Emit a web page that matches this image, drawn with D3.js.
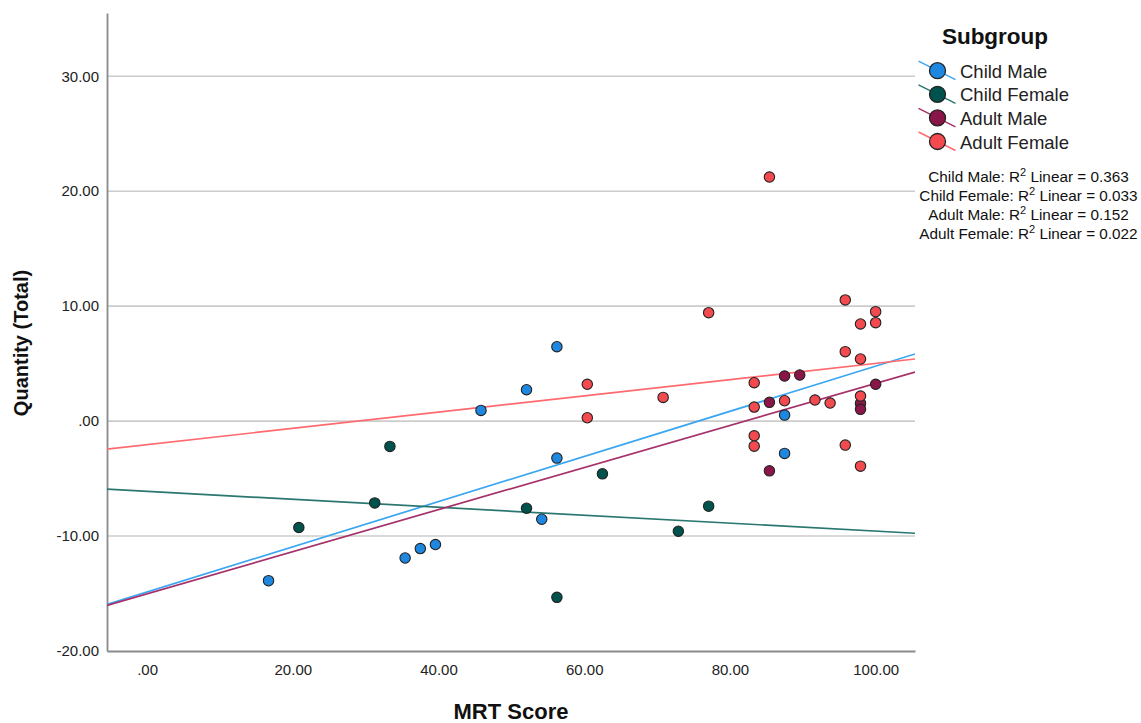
<!DOCTYPE html>
<html>
<head>
<meta charset="utf-8">
<script src="https://cdn.jsdelivr.net/npm/d3@7"></script>
<style>
  html, body { margin: 0; padding: 0; background: #ffffff; }
  svg { display: block; }
  text { font-family: "Liberation Sans", Arial, sans-serif; }
</style>
</head>
<body>
<svg id="chart" width="1141" height="723"></svg>
<script>
// ---------- data ----------
const subgroups = ["Child Male", "Child Female", "Adult Male", "Adult Female"];

const childMaleX = [16.67, 35.42, 37.50, 39.58, 45.83, 52.08, 54.17, 56.25, 56.25, 87.50, 87.50];
const childMaleY = [-13.88, -11.91, -11.09, -10.74, 0.93, 2.73, -8.54, 6.47, -3.22, 0.52, -2.81];

const childFemaleX = [20.83, 31.25, 33.33, 52.08, 56.25, 62.50, 72.92, 77.08];
const childFemaleY = [-9.26, -7.12, -2.20, -7.58, -15.33, -4.59, -9.58, -7.40];

const adultMaleX = [85.42, 87.50, 89.58, 85.42, 100.00, 97.92, 97.92];
const adultMaleY = [-4.33, 3.92, 4.01, 1.63, 3.20, 1.54, 1.02];

const adultFemaleX = [85.42, 77.08, 95.83, 100.00, 97.92, 100.00, 95.83, 97.92, 83.33, 70.83, 83.33,
                      87.50, 91.67, 93.75, 97.92, 83.33, 83.33, 95.83, 97.92, 60.42, 60.42];
const adultFemaleY = [21.23, 9.43, 10.54, 9.52, 8.45, 8.56, 6.04, 5.40, 3.34, 2.06, 1.22,
                      1.77, 1.83, 1.57, 2.18, -1.28, -2.18, -2.09, -3.92, 3.20, 0.29];

// linear fit lines (intercept, slope) per subgroup
const fitIntercept = [-14.86, -6.11, -15.02, -2.05];
const fitSlope = [0.1964, -0.0346, 0.183, 0.0707];
const r2Values = ["0.363", "0.033", "0.152", "0.022"];

const xTicks = [0, 20, 40, 60, 80, 100];
const xTickLabels = [".00", "20.00", "40.00", "60.00", "80.00", "100.00"];
const yTicks = [-20, -10, 0, 10, 20, 30];
const yTickLabels = ["-20.00", "-10.00", ".00", "10.00", "20.00", "30.00"];
const yGrid = [-10, 0, 10, 20, 30];

const xTitle = "MRT Score";
const yTitle = "Quantity (Total)";
const legendTitle = "Subgroup";

// ---------- styling ----------
const fillColors = ["#1e88e0", "#00524c", "#8a1548", "#f24a4f"];
const lineColors = ["#3aa6f2", "#2a7670", "#a5306a", "#ff6a6f"];

const seriesX = [childMaleX, childFemaleX, adultMaleX, adultFemaleX];
const seriesY = [childMaleY, childFemaleY, adultMaleY, adultFemaleY];

const svg = d3.select("#chart");

const x = d3.scaleLinear().domain([-5.5, 105.4]).range([107, 915]);
const y = d3.scaleLinear().domain([-20, 35.5]).range([651, 13]);

// grid lines
svg.append("g").selectAll("line").data(yGrid).join("line")
  .attr("x1", x.range()[0]).attr("x2", x.range()[1])
  .attr("y1", d => y(d)).attr("y2", d => y(d))
  .attr("stroke", "#cccccc").attr("stroke-width", 1.6);

// axes (lines only, SPSS style)
const xAxis = d3.axisBottom(x).tickValues(xTicks).tickSize(0).tickPadding(13)
  .tickFormat((d, i) => xTickLabels[i]);
const gx = svg.append("g").attr("transform", `translate(0,${y.range()[0]})`).call(xAxis);
gx.select(".domain").attr("stroke", "#8a8a8a").attr("stroke-width", 1.8);
gx.selectAll("text").attr("font-size", 15).attr("fill", "#222")
  .attr("font-family", "'Liberation Sans', Arial, sans-serif");

const yAxis = d3.axisLeft(y).tickValues(yTicks).tickSize(0).tickPadding(8)
  .tickFormat((d, i) => yTickLabels[i]);
const gy = svg.append("g").attr("transform", `translate(${x.range()[0]},0)`).call(yAxis);
gy.select(".domain").attr("stroke", "#8a8a8a").attr("stroke-width", 1.8);
gy.selectAll("text").attr("font-size", 15).attr("fill", "#222")
  .attr("font-family", "'Liberation Sans', Arial, sans-serif");

// fit lines
svg.append("clipPath").attr("id", "plotclip").append("rect")
  .attr("x", x.range()[0]).attr("y", y.range()[1])
  .attr("width", x.range()[1] - x.range()[0]).attr("height", y.range()[0] - y.range()[1]);

const xd = x.domain();
const fitG = svg.append("g").attr("clip-path", "url(#plotclip)");
subgroups.forEach((s, i) => {
  fitG.append("line")
    .attr("x1", x(xd[0])).attr("y1", y(fitIntercept[i] + fitSlope[i] * xd[0]))
    .attr("x2", x(xd[1])).attr("y2", y(fitIntercept[i] + fitSlope[i] * xd[1]))
    .attr("stroke", lineColors[i]).attr("stroke-width", 1.7);
});

// points
const ptG = svg.append("g");
subgroups.forEach((s, i) => {
  const pts = seriesX[i].map((v, j) => [v, seriesY[i][j]]);
  ptG.append("g").selectAll("circle").data(pts).join("circle")
    .attr("cx", d => x(d[0])).attr("cy", d => y(d[1])).attr("r", 5.2)
    .attr("fill", fillColors[i]).attr("stroke", "#222").attr("stroke-width", 1.1);
});

// axis titles
svg.append("text").attr("x", 511).attr("y", 719).attr("text-anchor", "middle")
  .attr("font-size", 22).attr("font-weight", "bold").attr("fill", "#111").text(xTitle);
svg.append("text").attr("transform", "translate(28,343) rotate(-90)").attr("text-anchor", "middle")
  .attr("font-size", 20).attr("font-weight", "bold").attr("fill", "#111").text(yTitle);

// legend
svg.append("text").attr("x", 995).attr("y", 44).attr("text-anchor", "middle")
  .attr("font-size", 22.5).attr("font-weight", "bold").attr("fill", "#111").text(legendTitle);

const leg = svg.append("g");
subgroups.forEach((s, i) => {
  const cy = 70.7 + i * 23.6, cx = 937.5;
  leg.append("line").attr("x1", cx - 19).attr("y1", cy - 9.5).attr("x2", cx + 18).attr("y2", cy + 9)
    .attr("stroke", lineColors[i]).attr("stroke-width", 1.5);
  leg.append("circle").attr("cx", cx).attr("cy", cy).attr("r", 8)
    .attr("fill", fillColors[i]).attr("stroke", "#222").attr("stroke-width", 1.3);
  leg.append("text").attr("x", 960).attr("y", cy + 7).attr("font-size", 18.5).attr("fill", "#222").text(s);
});

subgroups.forEach((s, i) => {
  const t = leg.append("text").attr("x", 1028.5).attr("y", 181.5 + i * 19)
    .attr("text-anchor", "middle").attr("font-size", 15.3).attr("fill", "#111");
  t.append("tspan").text(s + ": R");
  t.append("tspan").attr("font-size", 11).attr("dy", -6).text("2");
  t.append("tspan").attr("dy", 6).text(" Linear = " + r2Values[i]);
});
</script>
</body>
</html>
